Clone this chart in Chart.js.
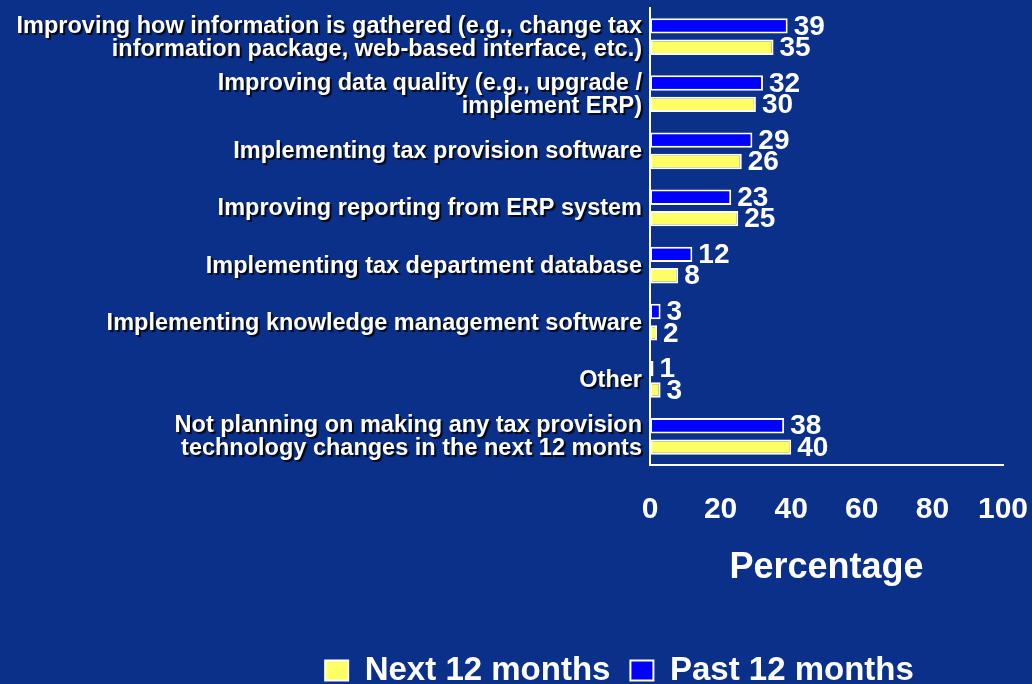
<!DOCTYPE html>
<html>
<head>
<meta charset="utf-8">
<script src="https://cdn.jsdelivr.net/npm/chart.js@4/dist/chart.umd.min.js"></script>
<style>
  html, body { margin: 0; padding: 0; background: #0b308a; overflow: hidden; }
  #wrap { width: 1032px; height: 684px; position: relative; }
</style>
</head>
<body>
<div id="wrap"><canvas id="grafico"></canvas></div>
<script>
// Data
const categorias = [
  ['Improving how information is gathered (e.g., change tax', 'information package, web-based interface, etc.)'],
  ['Improving data quality (e.g., upgrade /', 'implement ERP)'],
  'Implementing tax provision software',
  'Improving reporting from ERP system',
  'Implementing tax department database',
  'Implementing knowledge management software',
  'Other',
  ['Not planning on making any tax provision', 'technology changes in the next 12 monts']
];
const passado = [39, 32, 29, 23, 12, 3, 1, 38];
const proximo = [35, 30, 26, 25, 8, 2, 3, 40];
const ticksX = [0, 20, 40, 60, 80, 100];

const FONTE = '"Liberation Sans", Arial, sans-serif';
Chart.defaults.font.family = FONTE;
Chart.defaults.font.weight = 'bold';
Chart.defaults.color = '#ffffff';

// Category labels with a dark shadow
const rotulosY = {
  id: 'rotulosY',
  afterDraw(chart) {
    const { ctx } = chart;
    const y = chart.scales.y;
    ctx.save();
    ctx.font = 'bold 23.5px ' + FONTE;
    ctx.fillStyle = '#ffffff';
    ctx.textAlign = 'right';
    ctx.textBaseline = 'middle';
    ctx.shadowColor = 'rgba(0,0,0,0.85)';
    ctx.shadowOffsetX = 2;
    ctx.shadowOffsetY = 2;
    ctx.shadowBlur = 1;
    categorias.forEach((c, i) => {
      const linhas = Array.isArray(c) ? c : [c];
      const cy = y.getPixelForValue(i) + 1;
      const lh = 23;
      linhas.forEach((l, j) => {
        ctx.fillText(l, chart.chartArea.left - 8, cy + (j - (linhas.length - 1) / 2) * lh);
      });
    });
    ctx.restore();
  }
};

// Value labels at end of bars
const rotulosValor = {
  id: 'rotulosValor',
  afterDatasetsDraw(chart) {
    const { ctx } = chart;
    ctx.save();
    ctx.font = 'bold 28px ' + FONTE;
    ctx.fillStyle = '#ffffff';
    ctx.textAlign = 'left';
    ctx.textBaseline = 'middle';
    chart.data.datasets.forEach((ds, di) => {
      chart.getDatasetMeta(di).data.forEach((bar, i) => {
        ctx.fillText(ds.data[i], bar.x + 6, bar.y + 1);
      });
    });
    ctx.restore();
  }
};

const chart = new Chart(document.getElementById('grafico'), {
  type: 'bar',
  data: {
    labels: categorias,
    datasets: [{
      label: 'Past 12 months',
      data: passado,
      backgroundColor: '#0000ff',
      borderColor: '#ffffff',
      borderWidth: 2,
      borderSkipped: false
    }, {
      label: 'Next 12 months',
      data: proximo,
      backgroundColor: '#ffff66',
      borderColor: '#ffffff',
      borderWidth: 2,
      borderSkipped: false
    }]
  },
  options: {
    indexAxis: 'y',
    responsive: true,
    maintainAspectRatio: false,
    animation: false,
    categoryPercentage: 0.75,
    barPercentage: 0.72,
    layout: { padding: { left: 236, right: 29, top: 8, bottom: -13 } },
    plugins: {
      tooltip: { enabled: false },
      legend: {
        position: 'bottom',
        reverse: true,
        labels: {
          color: '#ffffff',
          font: { size: 33, weight: 'bold' },
          boxWidth: 23,
          boxHeight: 20,
          padding: 20
        }
      }
    },
    scales: {
      x: {
        min: 0,
        max: 100,
        afterBuildTicks: s => { s.ticks = ticksX.map(v => ({ value: v })); },
        afterFit: s => { s.height = 169; s.paddingLeft = 0; s.paddingRight = 0; },
        grid: { display: false, drawTicks: false },
        border: { color: '#ffffff', width: 2 },
        ticks: { color: '#ffffff', font: { size: 30, weight: 'bold' }, padding: 27 },
        title: {
          display: true,
          text: 'Percentage',
          color: '#ffffff',
          font: { size: 36, weight: 'bold' },
          padding: { top: 0, bottom: 44 }
        }
      },
      y: {
        afterFit: s => { s.width = 414; },
        grid: { display: false, drawTicks: false },
        border: { color: '#ffffff', width: 2 },
        ticks: { display: false }
      }
    }
  },
  plugins: [rotulosY, rotulosValor]
});
</script>
</body>
</html>
